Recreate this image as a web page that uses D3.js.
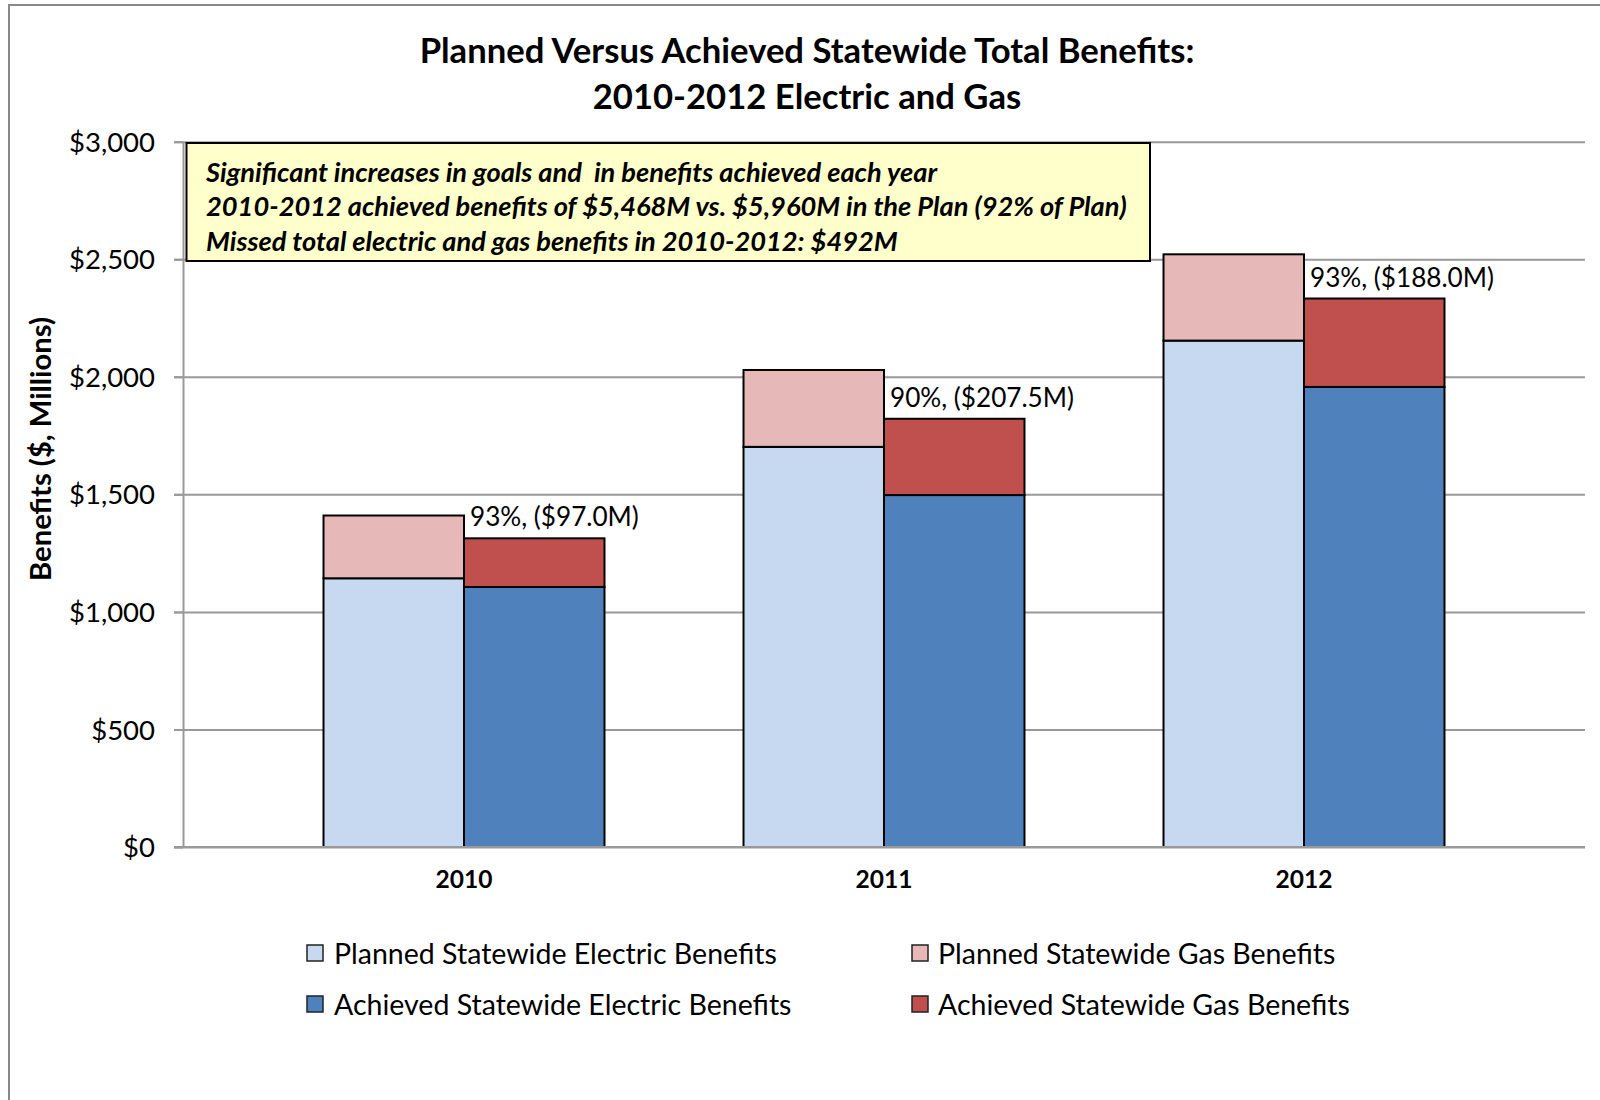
<!DOCTYPE html>
<html><head><meta charset="utf-8">
<script src="https://cdn.jsdelivr.net/npm/d3@7"></script>
<style>body{margin:0;background:#fff}svg{display:block}text{font-family:Lato,"Noto Sans",sans-serif;fill:#000}</style>
</head><body>
<svg id="c" width="1600" height="1100"></svg>
<script>
const years = ["2010","2011","2012"];
const plannedElectric = [1143, 1702, 2154];
const plannedGas = [267, 327, 367];
const achievedElectric = [1106, 1497, 1957];
const achievedGas = [207, 324.5, 376];
const dataLabels = ["93%, ($97.0M)", "90%, ($207.5M)", "93%, ($188.0M)"];
const yTicks = [0, 500, 1000, 1500, 2000, 2500, 3000];
const titleLines = ["Planned Versus Achieved Statewide Total Benefits:", "2010-2012 Electric and Gas"];
const noteLines = ["Significant increases in goals and  in benefits achieved each year",
  "2010-2012 achieved benefits of $5,468M vs. $5,960M in the Plan (92% of Plan)",
  "Missed total electric and gas benefits in 2010-2012: $492M"];
const seriesNames = ["Planned Statewide Electric Benefits","Planned Statewide Gas Benefits",
  "Achieved Statewide Electric Benefits","Achieved Statewide Gas Benefits"];
const colors = {pe:"#C6D9F1", pg:"#E6B9B8", ae:"#4F81BD", ag:"#C0504D"};

const svg = d3.select("#c");
function fit(sel, target, base){
  sel.attr("font-size", base);
  const w = sel.node().getComputedTextLength();
  sel.attr("font-size", base*target/w);
  return base*target/w;
}

// outer border
svg.append("rect").attr("x",9).attr("y",5).attr("width",1620).attr("height",1120)
  .attr("fill","none").attr("stroke","#888").attr("stroke-width",2);

const y = d3.scaleLinear().domain([0,3000]).range([847,141.7]);
const x = d3.scaleBand().domain(years).range([254,1514]).paddingInner(0.331).paddingOuter(0.1655);
const xs = d3.scaleBand().domain(["Planned","Achieved"]).range([0,x.bandwidth()]);

// gridlines
const grid = svg.append("g").attr("transform","translate(1585,0)")
  .call(d3.axisLeft(y).tickValues(yTicks).tickSize(1585-174).tickFormat(""));
grid.select(".domain").remove();
grid.selectAll("line").attr("stroke","#999").attr("stroke-width",2);

// y axis
const ya = svg.append("g").attr("transform","translate(183,0)")
  .call(d3.axisLeft(y).tickValues(yTicks).tickSizeInner(9).tickSizeOuter(0).tickPadding(28-9)
    .tickFormat(d=>"$"+d3.format(",")(d)));
ya.select(".domain").attr("stroke","#999").attr("stroke-width",2);
ya.selectAll("line").attr("stroke","#999").attr("stroke-width",2);
ya.selectAll("text").attr("font-family","Lato").attr("fill","#000").attr("dy","0.35em");
const tfs = fit(ya.selectAll("text").filter(d=>d===3000), 86, 28);
ya.selectAll("text").attr("font-size", tfs);

// bars
const rows = years.map((yr,i)=>({yr, pe:plannedElectric[i], pg:plannedGas[i], ae:achievedElectric[i], ag:achievedGas[i]}));
const segs = [];
rows.forEach(r=>{
  segs.push({yr:r.yr, s:"Planned", y0:0, y1:r.pe, c:colors.pe});
  segs.push({yr:r.yr, s:"Planned", y0:r.pe, y1:r.pe+r.pg, c:colors.pg});
  segs.push({yr:r.yr, s:"Achieved", y0:0, y1:r.ae, c:colors.ae});
  segs.push({yr:r.yr, s:"Achieved", y0:r.ae, y1:r.ae+r.ag, c:colors.ag});
});
svg.append("g").selectAll("rect").data(segs).join("rect")
  .attr("x", d=>x(d.yr)+xs(d.s)).attr("width", xs.bandwidth())
  .attr("y", d=>y(d.y1)).attr("height", d=>y(d.y0)-y(d.y1))
  .attr("fill", d=>d.c).attr("stroke","#000").attr("stroke-width",2);

// baseline over bars
svg.append("line").attr("x1",174).attr("x2",1585).attr("y1",y(0)).attr("y2",y(0))
  .attr("stroke","#999").attr("stroke-width",2);

// data labels
const lbl = svg.append("g").selectAll("text").data(rows).join("text")
  .attr("x", d=>x(d.yr)+x.bandwidth()/2+6)
  .attr("y", d=>y(d.ae+d.ag)-22)
  .attr("dominant-baseline","central")
  .text((d,i)=>dataLabels[i]);
const lfs = fit(lbl.filter((d,i)=>i===0), 169, 26);
lbl.attr("font-size", lfs);

// x labels
const xl = svg.append("g").selectAll("text").data(years).join("text")
  .attr("x", d=>x(d)+x.bandwidth()/2).attr("y", 878)
  .attr("text-anchor","middle").attr("dominant-baseline","central")
  .attr("font-weight","bold").text(d=>d);
const xfs = fit(xl.filter((d,i)=>i===0), 57, 24);
xl.attr("font-size", xfs);

// title
const tl = svg.append("g").selectAll("text").data(titleLines).join("text")
  .attr("x",807).attr("y",(d,i)=>[49,95][i]).attr("text-anchor","middle")
  .attr("dominant-baseline","central").attr("font-weight","bold").text(d=>d);
const tls = fit(tl.filter((d,i)=>i===0), 775, 28);
tl.attr("font-size", tls);

// y title
const yt = svg.append("text").attr("transform","translate(39,449) rotate(-90)")
  .attr("text-anchor","middle").attr("dominant-baseline","central")
  .attr("font-weight","bold").text("Benefits ($, Millions)");
fit(yt, 264, 24);

// annotation
svg.append("rect").attr("x",186.5).attr("y",143).attr("width",963.5).attr("height",118)
  .attr("fill","#FFFFCC").attr("stroke","#000").attr("stroke-width",2);
const nl = svg.append("g").selectAll("text").data(noteLines).join("text")
  .attr("x",206).attr("y",(d,i)=>[171,205,240][i]).attr("dominant-baseline","central")
  .attr("font-weight","bold").attr("font-style","italic")
  .style("white-space","pre").attr("xml:space","preserve").text(d=>d);
const nfs = fit(nl.filter((d,i)=>i===1), 921, 24);
nl.attr("font-size", nfs);

// legend
const legItems = [
  {name:seriesNames[0], c:colors.pe, sx:307, tx:334, ty:953},
  {name:seriesNames[1], c:colors.pg, sx:912, tx:938, ty:953},
  {name:seriesNames[2], c:colors.ae, sx:307, tx:334, ty:1004},
  {name:seriesNames[3], c:colors.ag, sx:912, tx:938, ty:1004}];
const lg = svg.append("g").selectAll("g").data(legItems).join("g");
lg.append("rect").attr("x",d=>d.sx).attr("y",d=>d.ty-8).attr("width",16).attr("height",16)
  .attr("fill",d=>d.c).attr("stroke","#222").attr("stroke-width",1.5);
const lt = lg.append("text").attr("x",d=>d.tx).attr("y",d=>d.ty).attr("dominant-baseline","central").text(d=>d.name);
const lgfs = fit(lt.filter((d,i)=>i===0), 443, 26);
lt.attr("font-size", lgfs);
</script>
</body></html>
